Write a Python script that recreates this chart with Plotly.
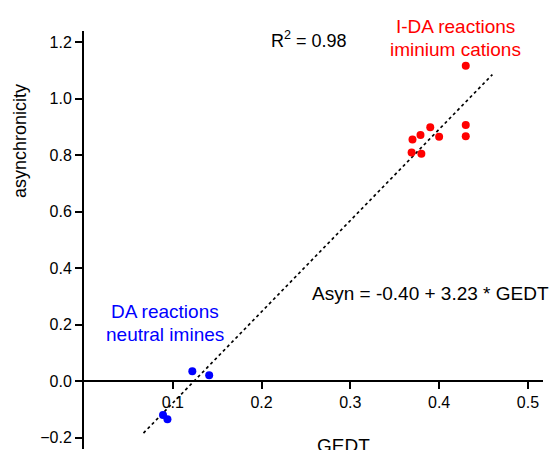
import plotly.graph_objects as go

# ---- data ----
ida_gedt = [0.430, 0.430, 0.430, 0.390, 0.379, 0.400, 0.370, 0.369, 0.380]
ida_asyn = [1.117, 0.907, 0.867, 0.899, 0.872, 0.866, 0.856, 0.810, 0.805]
da_gedt = [0.122, 0.141, 0.089, 0.094]
da_asyn = [0.035, 0.021, -0.120, -0.135]
fit_intercept = -0.40
fit_slope = 3.23
fit_x = [0.067, 0.460]
fit_y = [fit_intercept + fit_slope * v for v in fit_x]

x_tickvals = [0.1, 0.2, 0.3, 0.4, 0.5]
x_ticktext = ["0.1", "0.2", "0.3", "0.4", "0.5"]
y_tickvals = [-0.2, 0.0, 0.2, 0.4, 0.6, 0.8, 1.0, 1.2]
y_ticktext = ["\u22120.2", "0.0", "0.2", "0.4", "0.6", "0.8", "1.0", "1.2"]

X_RANGE = [0, 0.517]
Y_RANGE = [-0.24, 1.24]

W, H = 555, 450
ML, MR, MT, MB = 84, 12, 31, 1
PW, PH = W - ML - MR, H - MT - MB
FONT = "Liberation Sans, Arial, sans-serif"


def px_x(p):
    return (p - ML) / PW


def px_y(p):
    return (H - MB - p) / PH


fig = go.Figure()
fig.add_trace(go.Scatter(x=fit_x, y=fit_y, mode="lines",
                         line=dict(color="black", width=1.7, dash="3px,3px"),
                         showlegend=False, hoverinfo="skip"))
fig.add_trace(go.Scatter(x=ida_gedt, y=ida_asyn, mode="markers",
                         marker=dict(color="#ff0000", size=8), showlegend=False))
fig.add_trace(go.Scatter(x=da_gedt, y=da_asyn, mode="markers",
                         marker=dict(color="#0000ff", size=8), showlegend=False))

xpos = (0 - Y_RANGE[0]) / (Y_RANGE[1] - Y_RANGE[0])

fig.update_layout(
    width=W, height=H,
    margin=dict(l=ML, r=MR, t=MT, b=MB, autoexpand=False),
    paper_bgcolor="white", plot_bgcolor="white",
    font=dict(family=FONT, size=16, color="black"),
    xaxis=dict(range=X_RANGE, anchor="free", position=xpos,
               showline=True, linecolor="black", linewidth=2,
               ticks="outside", ticklen=7, tickwidth=1.5, tickcolor="black",
               tickvals=x_tickvals, ticktext=x_ticktext,
               showgrid=False, zeroline=False,
               tickfont=dict(size=16, family=FONT)),
    yaxis=dict(range=Y_RANGE, showline=True, linecolor="black", linewidth=2,
               ticks="outside", ticklen=7, tickwidth=1.5, tickcolor="black",
               tickvals=y_tickvals, ticktext=y_ticktext,
               showgrid=False, zeroline=False,
               tickfont=dict(size=16, family=FONT)),
)

ann = [
    dict(text="R<sup>2</sup> = 0.98", x=px_x(269), y=px_y(40), xanchor="left", color="black", size=18),
    dict(text="I-DA reactions", x=px_x(455), y=px_y(26), xanchor="center", color="#ff0000", size=19),
    dict(text="iminium cations", x=px_x(455), y=px_y(49), xanchor="center", color="#ff0000", size=19),
    dict(text="DA reactions", x=px_x(165), y=px_y(311), xanchor="center", color="#0000ff", size=19),
    dict(text="neutral imines", x=px_x(165), y=px_y(334), xanchor="center", color="#0000ff", size=19),
    dict(text="Asyn = -0.40 + 3.23 * GEDT", x=px_x(310), y=px_y(293), xanchor="left", color="black", size=19),
    dict(text="GEDT", x=px_x(343), y=px_y(445), xanchor="center", color="black", size=19),
]
for a in ann:
    fig.add_annotation(text=a["text"], x=a["x"], y=a["y"], xref="paper", yref="paper",
                       xanchor=a["xanchor"], yanchor="middle", showarrow=False,
                       font=dict(size=a["size"], color=a["color"], family=FONT))

fig.add_annotation(text="asynchronicity", x=px_x(20), y=px_y(141), xref="paper", yref="paper",
                   xanchor="center", yanchor="middle", showarrow=False, textangle=-90,
                   font=dict(size=18, color="black", family=FONT))

fig.write_html("out.html")
